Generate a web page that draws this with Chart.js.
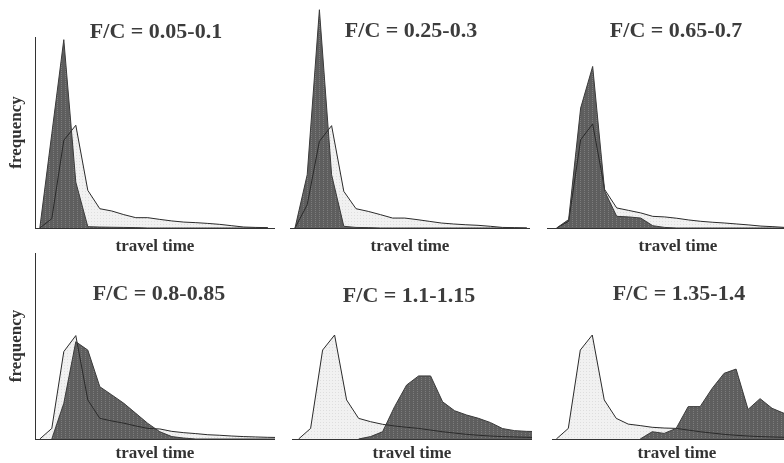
<!DOCTYPE html>
<html>
<head>
<meta charset="utf-8">
<script src="https://cdn.jsdelivr.net/npm/chart.js@4.4.1/dist/chart.umd.min.js"></script>
<style>
  html, body { margin: 0; padding: 0; background: #fff; overflow: hidden; }
  body { width: 784px; height: 463px; position: relative; overflow: hidden; }
  .panel { position: absolute; }
  .ttl {
    position: absolute; width: 240px; text-align: center;
    font: bold 22px "Liberation Serif", "Times New Roman", serif;
    color: #3c3c3c; line-height: 22px; white-space: nowrap;
  }
</style>
</head>
<body>
<script>
// panel titles
const titles = ["F/C = 0.05-0.1", "F/C = 0.25-0.3", "F/C = 0.65-0.7",
                "F/C = 0.8-0.85", "F/C = 1.1-1.15", "F/C = 1.35-1.4"];

// frequency per travel time bin (light = uncongested reference, dark = this F/C)
const light1 = [0, 4.9, 45.9, 53.8, 19.7, 10.1, 8.9, 7.0, 5.4, 5.4, 4.5, 3.7, 3.1, 2.8, 2.4, 1.9, 1.2, 0.5, 0.3, 0.2];
const dark1  = [0, 49.4, 98.6, 24, 0.7, 0.5, 0.4, 0.3, 0.2, 0, 0, 0, 0, 0, 0, 0, 0, 0, 0, 0];

const light2 = [0, 12.2, 45.4, 53.6, 19.2, 10.1, 8.7, 7.0, 5.2, 5.2, 4.4, 3.5, 2.6, 2.1, 1.7, 1.4, 0.9, 0.3, 0.2, 0];
const dark2  = [0, 27.9, 114.3, 27.9, 0.9, 0.3, 0.2, 0, 0, 0, 0, 0, 0, 0, 0, 0, 0, 0, 0, 0];

const light3 = [0, 3.5, 46.2, 54.5, 20.1, 10.5, 9.2, 7.9, 6.1, 5.8, 5.1, 4.2, 3.5, 3.0, 2.6, 2.1, 1.6, 1.0, 0.7, 0.3];
const dark3  = [0, 4.4, 62.8, 84.6, 19.2, 6.1, 5.8, 5.2, 1.2, 0.3, 0, 0, 0, 0, 0, 0, 0, 0, 0, 0];

const light4 = [0, 5.7, 47, 55.6, 21, 11.1, 9.7, 8.5, 7.0, 5.7, 5.4, 4.1, 3.4, 2.9, 2.3, 2.0, 1.6, 1.3, 1.1, 0.9, 0.8];
const dark4  = [null, 0, 19.2, 52.3, 47.8, 28.1, 23.7, 19.2, 13.8, 8.4, 3.9, 1.3, 0.5, 0, 0, 0, 0, 0, 0, 0, 0];

const light5 = [0, 5.7, 47.8, 55.9, 21, 11.1, 9.3, 7.9, 7.0, 6.3, 5.7, 4.8, 3.9, 3.2, 2.5, 2.0, 1.6, 1.3, 1.1, 0.9, 0.8];
const dark5  = [null, null, null, null, null, 0, 1.3, 3.9, 17.4, 29, 33.9, 33.9, 20, 15.2, 12.9, 11.1, 8.8, 5.6, 4.5, 4.1, 4.0];

const light6 = [0, 5.7, 47.8, 55.9, 21, 11.1, 8.0, 7.2, 6.3, 5.9, 5.7, 4.8, 3.9, 3.2, 2.5, 2.0, 1.6, 1.3, 1.1, 0.9];
const dark6  = [null, null, null, null, null, null, null, 0, 3.9, 3.0, 5.7, 17.4, 17.4, 27.2, 35.3, 37.6, 15.9, 21.7, 16.5, 13.8];

const series = [[light1, dark1], [light2, dark2], [light3, dark3],
                [light4, dark4], [light5, dark5], [light6, dark6]];

// where each panel sits on the page (right-column panels run past the page edge, as in the original crop)
const panels = [
  { left: 0,   top: 37,  w: 275, h: 224, yAxis: true,  xMin: -0.4,  xMax: 19.6,  yMax: 100,   xh: 33, tpad: 4, tx: 156, ty: 20 },
  { left: 290, top: 4,   w: 240, h: 257, yAxis: false, xMin: -0.41, xMax: 19.26, yMax: 117.3, xh: 33, tpad: 4, tx: 411, ty: 19 },
  { left: 547, top: 4,   w: 262, h: 257, yAxis: false, xMin: -0.8,  xMax: 21.0,  yMax: 117.3, xh: 33, tpad: 4, tx: 676, ty: 19 },
  { left: 0,   top: 253, w: 275, h: 213, yAxis: true,  xMin: -0.4,  xMax: 19.6,  yMax: 100,   xh: 27, tpad: 2, tx: 159, ty: 282 },
  { left: 292, top: 253, w: 240, h: 213, yAxis: false, xMin: -0.55, xMax: 19.45, yMax: 100,   xh: 27, tpad: 2, tx: 409, ty: 284 },
  { left: 552, top: 253, w: 250, h: 213, yAxis: false, xMin: -0.36, xMax: 20.5,  yMax: 100,   xh: 27, tpad: 2, tx: 679, ty: 282 }
];

function makePattern(base, dot, w, h, dots) {
  const c = document.createElement("canvas");
  c.width = w; c.height = h;
  const g = c.getContext("2d");
  g.fillStyle = base;
  g.fillRect(0, 0, w, h);
  g.fillStyle = dot;
  dots.forEach(([x, y]) => g.fillRect(x, y, 1, 1));
  return g.createPattern(c, "repeat");
}

const lightFill = makePattern("#f1f1f1", "#dedede", 3, 3, [[1, 1]]);
const darkFill = makePattern("#5e5e5e", "#7c7c7c", 4, 2, [[1, 0]]);

const toPoints = arr => arr.map((v, i) => ({ x: i, y: v }));
const axisFont = { family: "'Liberation Serif', 'Times New Roman', serif", size: 17, weight: "bold" };

panels.forEach((p, k) => {
  const div = document.createElement("div");
  div.className = "panel";
  div.style.left = p.left + "px";
  div.style.top = p.top + "px";
  const cv = document.createElement("canvas");
  cv.width = p.w; cv.height = p.h;
  cv.style.width = p.w + "px"; cv.style.height = p.h + "px";
  div.appendChild(cv);
  document.body.appendChild(div);

  const [lightVals, darkVals] = series[k];

  new Chart(cv, {
    type: "line",
    data: {
      datasets: [
        { data: toPoints(darkVals), borderColor: "#3a3a3a", borderWidth: 1, backgroundColor: darkFill, fill: "origin" },
        { data: toPoints(lightVals), borderColor: "#2a2a2a", borderWidth: 1, backgroundColor: lightFill, fill: "origin" }
      ]
    },
    options: {
      responsive: false,
      animation: false,
      devicePixelRatio: 1,
      layout: { padding: 0 },
      elements: { point: { radius: 0 }, line: { tension: 0 } },
      plugins: {
        legend: { display: false },
        tooltip: { enabled: false },
        filler: { drawTime: "beforeDatasetsDraw" }
      },
      scales: {
        x: {
          type: "linear", min: p.xMin, max: p.xMax,
          ticks: { display: false },
          grid: { display: false },
          border: { display: true, color: "#333", width: 1 },
          title: { display: true, text: "travel time", color: "#333", font: axisFont, padding: { top: 0, bottom: p.tpad } },
          afterFit: s => { s.height = p.xh; }
        },
        y: {
          display: p.yAxis,
          min: 0, max: p.yMax,
          ticks: { display: false },
          grid: { display: false },
          border: { display: true, color: "#333", width: 1 },
          title: { display: true, text: "frequency", color: "#333", font: axisFont, padding: { top: 6, bottom: 0 } },
          afterFit: s => { s.width = p.yAxis ? 35 : 0; }
        }
      }
    }
  });

  const t = document.createElement("div");
  t.className = "ttl";
  t.textContent = titles[k];
  t.style.left = (p.tx - 120) + "px";
  t.style.top = p.ty + "px";
  document.body.appendChild(t);
});
</script>
</body>
</html>
